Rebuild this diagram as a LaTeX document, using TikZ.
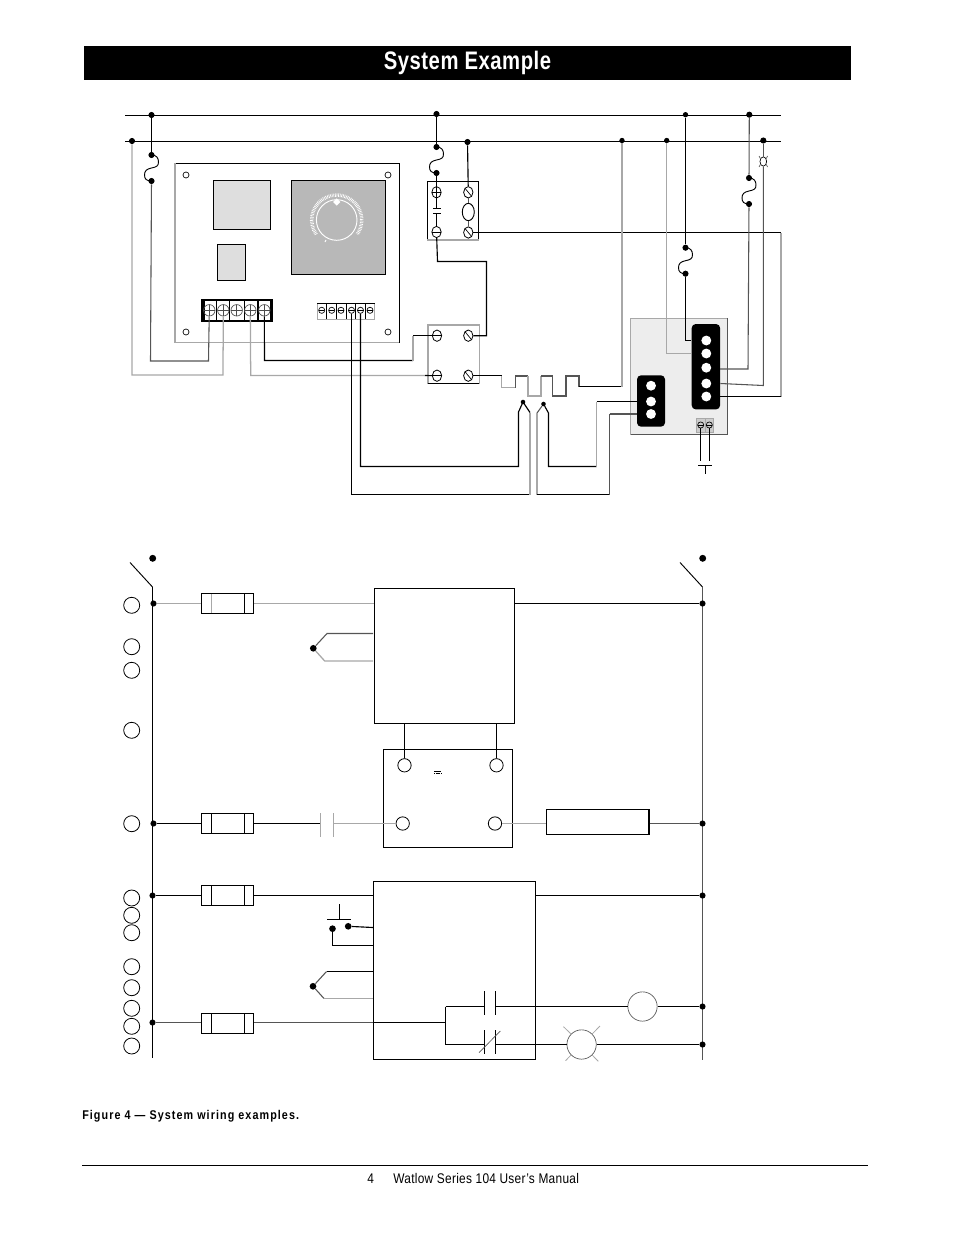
\documentclass[tikz,border=0pt]{standalone}
\usepackage{fontspec}
\setmainfont[FakeStretch=0.85]{Liberation Sans}
\newfontfamily\titlefont[FakeStretch=0.8,LetterSpace=2]{Liberation Sans}
\newfontfamily\captfont[FakeStretch=0.85,LetterSpace=8.5]{Liberation Sans}
\newfontfamily\footfont[FakeStretch=0.85,LetterSpace=2]{Liberation Sans}
\usetikzlibrary{shapes.geometric}
\definecolor{wiregray}{HTML}{A8A8A8}
\definecolor{wiredark}{HTML}{555555}
\tikzset{
  wire/.style={line width=.85pt,black},
  gwire/.style={line width=.95pt,wiregray},
  dwire/.style={line width=.8pt,wiredark},
  jdot/.style={circle,fill=black,inner sep=0pt,minimum size=4.6pt},
  hole/.style={circle,draw,line width=.5pt,inner sep=0pt,minimum size=4.5pt},
  tagc/.style={circle,draw,line width=.6pt,inner sep=0pt,minimum size=12pt},
  termc/.style={circle,draw,line width=.6pt,inner sep=0pt,fill=white,minimum size=10pt},
  fusebox/.style={draw,line width=.85pt,inner sep=0pt,minimum width=39.3pt,minimum height=15pt},
  ctrlbox/.style={draw,line width=.85pt,inner sep=0pt},
  screwplus/.style={ellipse,draw,line width=.6pt,inner sep=0pt,fill=white,minimum width=7pt,minimum height=8.5pt,
    path picture={\draw[line width=.5pt] (path picture bounding box.north)--(path picture bounding box.south)
      (path picture bounding box.west)--(path picture bounding box.east);}},
  screwbar/.style={ellipse,draw,line width=.6pt,inner sep=0pt,fill=white,minimum width=7pt,minimum height=8.5pt,
    path picture={\draw[line width=.5pt] (path picture bounding box.west)--(path picture bounding box.east);}},
  screwdiag/.style={ellipse,draw,line width=.6pt,inner sep=0pt,fill=white,minimum width=7pt,minimum height=8.5pt,
    path picture={\draw[line width=.5pt] (path picture bounding box.north west)--(path picture bounding box.south east);}},
  screwbig/.style={circle,draw=black!70,line width=.5pt,inner sep=0pt,minimum size=8.6pt,
    path picture={\draw[line width=.5pt] (path picture bounding box.north)--(path picture bounding box.south)
      (path picture bounding box.west)--(path picture bounding box.east);}},
  screwmini/.style={circle,draw,line width=.5pt,inner sep=0pt,minimum size=4.6pt,
    path picture={\draw[line width=.4pt] (path picture bounding box.west)--(path picture bounding box.east);}},
  portw/.style={circle,fill=white,inner sep=0pt,minimum size=7.4pt}
}
\newcommand{\fuseS}[2]{%
  \draw[#1] (#2.center) .. controls +(5,0) and +(0,-4) .. ++(7,7)
    .. controls +(0,4) and +(5,-1) .. ++(-7,6)
    .. controls +(-5,1) and +(0,-4) .. ++(-7,7)
    .. controls +(0,4) and +(-5,0) .. ++(7,6);}
\begin{document}
\begin{tikzpicture}[x=0.75pt,y=-0.75pt]
  \useasboundingbox (0,0) rectangle (954,1235);

  %nadpis
  \node[fill=black,inner sep=0pt,minimum width=575.25pt,minimum height=25.5pt,text=white,font=\titlefont\bfseries\fontsize{19}{19}\selectfont] (titlebar) at (467.5,63) {System Example};

  %zbernice
  \coordinate (busaw) at (125,115.5);
  \coordinate (busae) at (781,115.5);
  \coordinate (busbw) at (125,141.5);
  \coordinate (busbe) at (781,141.5);
  \draw[wire] (busaw) -- (busae);
  \draw[wire] (busbw) -- (busbe);
  \node[jdot] (da1) at (151.5,115) {};
  \node[jdot] (da2) at (436.5,114) {};
  \node[jdot,minimum size=4pt] (da3) at (685.5,114.7) {};
  \node[jdot] (da4) at (749.3,114.7) {};
  \node[jdot] (db1) at (132,141) {};
  \node[jdot] (db2) at (467.5,142) {};
  \node[jdot,minimum size=4pt] (db3) at (622,140.5) {};
  \node[jdot,minimum size=4pt] (db4) at (666.7,140.5) {};
  \node[jdot] (db5) at (763.3,140.5) {};

  %poistky
  \node[jdot] (fa1) at (151.5,155) {};
  \node[jdot] (fa2) at (151.5,181) {};
  \node[jdot] (fb1) at (436.5,147) {};
  \node[jdot] (fb2) at (436.5,173) {};
  \node[jdot] (fc1) at (685.5,247.7) {};
  \node[jdot] (fc2) at (685.5,273.7) {};
  \node[jdot] (fd1) at (749,178) {};
  \node[jdot] (fd2) at (749,204) {};
  \fuseS{line width=.7pt,black}{fa1}
  \fuseS{line width=.7pt,black}{fb1}
  \fuseS{line width=.7pt,black}{fc1}
  \fuseS{line width=.7pt,black}{fd1}

  %regulator
  \draw[line width=.85pt] (175,342.7) -- (175,163.3) -- (399.3,163.3) -- (399.3,342.7);
  \draw[line width=1.1pt,wiregray] (175,163.3) -- (175,342.7) -- (399.3,342.7);
  \node[hole] (ha) at (186,175) {};
  \node[hole] (hb) at (388,175) {};
  \node[hole] (hc) at (186,332) {};
  \node[hole] (hd) at (388,332) {};
  \draw[fill=black!13,line width=.85pt] (213.3,180.3) rectangle (270.3,229.3);
  \draw[fill=black!13,line width=.85pt] (217.3,244.3) rectangle (245.7,280.3);
  \draw[fill=black!28,line width=.85pt] (291.3,180.3) rectangle (385.7,274.3);

  %gombik
  \draw[white,line width=.7pt] (336.7,220) circle (20.3);
  \draw[white,line width=2.6pt,dash pattern=on .5pt off .7pt] ([shift={(-215:25)}]336.7,220) arc[start angle=-215,end angle=35,radius=25];
  \draw[white,line width=.7pt] (325,242) -- (326,240);
  \node[diamond,fill=white,inner sep=0pt,minimum size=5.5pt] (knob) at (336.7,202) {};

  %svorkovnica velka
  \fill (201.3,299.3) rectangle (204.7,321.7);
  \fill (215.7,299.3) rectangle (216.7,321.7);
  \fill (229.3,299.3) rectangle (230.3,321.7);
  \fill (244,299.3) rectangle (245,321.7);
  \fill (257.3,299.3) rectangle (259.3,321.7);
  \fill (270,299.3) rectangle (272.7,321.7);
  \draw[line width=1.1pt] (201.3,300) -- (272.7,300) (201.3,321) -- (272.7,321);
  \node[screwbig] (ta) at (209.3,310.3) {};
  \node[screwbig] (tb) at (223.3,310.3) {};
  \node[screwbig] (tc) at (236.7,310.3) {};
  \node[screwbig] (td) at (250.3,310.3) {};
  \node[screwbig] (te) at (264.3,310.3) {};

  %svorkovnica mala
  \draw[line width=.6pt,wiregray] (317.3,303.3) rectangle (374.7,319.3);
  \draw[line width=.6pt] (317.3,303.3) -- (374.7,303.3);
  \draw[line width=.5pt] (326.8,303.3) -- (326.8,319.3) (336.4,303.3) -- (336.4,319.3) (346,303.3) -- (346,319.3) (355.6,303.3) -- (355.6,319.3) (365.2,303.3) -- (365.2,319.3);
  \node[screwmini] (sa) at (321.7,310.3) {};
  \node[screwmini] (sb) at (331.7,310.3) {};
  \node[screwmini] (sc) at (341,310.3) {};
  \node[screwmini] (sd) at (351.5,310.3) {};
  \node[screwmini] (se) at (360.5,310.3) {};
  \node[screwmini] (sf) at (370,310.3) {};

  %stykac horny
  \draw[line width=.85pt] (427.3,240) -- (427.3,181.3) -- (478.7,181.3) -- (478.7,240);
  \draw[line width=.9pt,wiregray] (427.3,240) -- (478.7,240);
  \node[screwplus] (ka) at (436.5,192.3) {};
  \node[screwdiag] (kb) at (468.3,192.3) {};
  \node[screwbar] (kc) at (436.5,232) {};
  \node[screwdiag] (kd) at (468.3,232.5) {};
  \node[ellipse,draw,line width=.7pt,inner sep=0pt,minimum width=9pt,minimum height=13pt] (coil) at (468.3,212) {};
  \coordinate (cta) at (436.5,208.3);
  \coordinate (ctb) at (436.5,213.3);
  \draw[line width=.7pt] (433.3,208.3) -- (440.7,208.3) (433.3,213.3) -- (440.7,213.3);
  \draw[line width=.7pt] (fb2) -- (cta);
  \draw[line width=.7pt] (ctb) -- (kc);
  \draw[dwire] (kb) -- (coil);
  \draw[dwire] (coil) -- (kd);

  %stykac dolny
  \draw[line width=1.2pt,wiregray] (427.7,383.7) -- (427.7,324.7) -- (479.3,324.7) -- (479.3,383.7);
  \draw[line width=.85pt] (427.7,383.7) -- (479.3,383.7);
  \node[screwbar] (ma) at (437,335.7) {};
  \node[screwdiag] (mb) at (468.3,335.7) {};
  \node[screwbar] (mc) at (437,375.7) {};
  \node[screwdiag] (md) at (468.3,375.7) {};

  %riadiaca jednotka
  \draw[line width=.7pt,fill=black!7,draw=wiregray] (630.7,434.3) rectangle (727.3,318.3);
  \draw[line width=.85pt,wiredark] (630.7,434.3) -- (727.3,434.3) -- (727.3,318.3);
  \node[fill=black,rounded corners=3pt,inner sep=0pt,minimum width=21.3pt,minimum height=64pt] (blocka) at (705.9,366.7) {};
  \node[fill=black,rounded corners=3pt,inner sep=0pt,minimum width=21pt,minimum height=38.5pt] (blockb) at (651,401) {};
  \node[portw] (pa) at (706.3,340.5) {};
  \node[portw] (pb) at (706.3,353.5) {};
  \node[portw] (pc) at (706.3,367.7) {};
  \node[portw] (pd) at (706.3,383.5) {};
  \node[portw] (pe) at (706.3,396.5) {};
  \node[portw] (pf) at (651,385.7) {};
  \node[portw] (pg) at (651,401.5) {};
  \node[portw] (ph) at (651,414) {};
  \draw[fill=black!20,draw=wiregray,line width=.6pt] (696.7,418.3) rectangle (713.3,432.3);
  \draw[wiregray,line width=.6pt] (705,418.3) -- (705,432.3);
  \node[screwmini] (qa) at (700.7,425) {};
  \node[screwmini] (qb) at (709.3,425) {};

  %kontakt pod jednotkou
  \coordinate (qc) at (700.7,461);
  \coordinate (qd) at (709.3,461);
  \draw[line width=.7pt] (qa) -- (qc);
  \draw[line width=.7pt] (qb) -- (qd);
  \draw[line width=.7pt] (698.3,465.3) -- (712,465.3) (705.3,465.3) -- (705.3,473.7);

  %signalka
  \node[ellipse,draw,line width=.5pt,inner sep=0pt,minimum width=5pt,minimum height=7pt] (lampa) at (763.3,161.5) {};
  \draw[line width=.5pt,wiredark] (759,156) -- (lampa.135) (767.6,156) -- (lampa.45) (759,167) -- (lampa.225) (767.6,167) -- (lampa.315);

  %vodice hore
  \draw[wire] (da1) -- (fa1);
  \draw[wire] (da2) -- (fb1);
  \draw[wire] (da3) -- (fc1);
  \draw[dwire] (da4) -- (fd1);
  \draw[wire] (db2) -- (kb);
  \draw[dwire] (db5) -- (lampa);
  \draw[dwire] (fa2) -- (150.5,361) -- (208.5,361) -- (ta);
  \draw[gwire] (db1) -- (132,375) -- (223,375) -- (tb);
  \draw[gwire] (td) -- (250.7,375.5) -- (425,375.5);
  \draw[wire] (425,375.5) -- (mc);
  \draw[wire] (te) -- (264.5,360.5) -- (413,360.5);
  \draw[gwire] (413,360.5) -- (413,335.7);
  \draw[wire] (413,335.7) -- (ma);
  \draw[wire] (kc) -- (437.5,261.5) -- (486.5,261.5) -- (486.5,335.7) -- (mb);
  \draw[wire] (kd) -- (781,232.5);
  \draw[gwire] (781,232.5) -- (781,396.5);
  \draw[wire] (781,396.5) -- (blocka.east |- pe);
  \draw[wire] (sd) -- (351.5,494.5) -- (530,494.5);
  \draw[wire] (se) -- (360.5,466.5) -- (518.5,466.5) -- (518.5,412) -- (523,402);
  \draw[wire] (523,402) -- (530,412.5);
  \draw[gwire] (530,412.5) -- (530,494.5);
  \draw[wire] (md) -- (501.7,375.7);
  \draw[gwire] (501.7,375.7) -- (501.7,387.7) -- (515.7,387.7);
  \draw[dwire] (515.7,387.7) -- (515.7,376) -- (528,376);
  \draw[gwire] (528,376) -- (528,396) -- (541,396) -- (541,376);
  \draw[dwire] (541,376) -- (552.3,376) -- (552.3,396) -- (566,396) -- (566,376) -- (579,376) -- (579,386.5);
  \draw[wire] (579,386.5) -- (622,386.5);
  \draw[gwire] (622,386.5) -- (db3);
  \draw[gwire] (db4) -- (666.7,353.5) -- (blocka.west |- pb);
  \draw[wire] (fc2) -- (685.5,340.5) -- (blocka.west |- pa);
  \draw[dwire] (fd2) -- (748,369) -- (720,369);
  \draw[dwire] (lampa) -- (763.3,385.5) -- (blocka.east |- pd);
  \node[jdot,minimum size=3.4pt] (tca) at (523,402) {};
  \node[jdot,minimum size=3.4pt] (tcb) at (543.5,404) {};
  \draw[wire] (tcb) -- (548.5,413) -- (548.5,466.5) -- (596.7,466.5);
  \draw[gwire] (596.7,466.5) -- (596.7,401.5);
  \draw[wire] (596.7,401.5) -- (blockb.west |- pg);
  \draw[dwire] (tcb) -- (537,413);
  \draw[gwire] (537,413) -- (537,494.5);
  \draw[wire] (537,494.5) -- (609.5,494.5);
  \draw[dwire] (609.5,494.5) -- (609.5,414);
  \draw[dwire] (609.5,414) -- (blockb.west |- ph);

  %schema dole - hlavny vypinac
  \node[jdot,minimum size=5.2pt] (swa) at (152.7,558.3) {};
  \node[jdot,minimum size=5.2pt] (swb) at (702.7,558.3) {};
  \coordinate (laa) at (152.5,587);
  \coordinate (lab) at (152.5,1058);
  \coordinate (lba) at (702.5,587);
  \coordinate (lbb) at (702.5,1060);
  \draw[line width=.7pt] (130,562.5) -- (laa);
  \draw[line width=.7pt] (680,562.5) -- (lba);
  \draw[wire] (laa) -- (lab);
  \draw[dwire] (lba) -- (lbb);

  %kruzky vlavo
  \node[tagc] (n1) at (131.7,605.3) {};
  \node[tagc] (n2) at (131.7,646.7) {};
  \node[tagc] (n3) at (131.7,670.3) {};
  \node[tagc] (n4) at (131.7,730.3) {};
  \node[tagc] (n5) at (131.7,823.7) {};
  \node[tagc] (n6) at (131.7,898) {};
  \node[tagc] (n7) at (131.7,915.3) {};
  \node[tagc] (n8) at (131.7,932.7) {};
  \node[tagc] (n9) at (131.7,966.7) {};
  \node[tagc] (n10) at (131.7,987.7) {};
  \node[tagc] (n11) at (131.7,1008.3) {};
  \node[tagc] (n12) at (131.7,1026.3) {};
  \node[tagc] (n13) at (131.7,1046) {};

  %uzly
  \node[jdot] (ra) at (153.5,603.5) {};
  \node[jdot] (rb) at (153.5,823.5) {};
  \node[jdot] (rc) at (152.5,895.5) {};
  \node[jdot] (rd) at (152.5,1022.5) {};
  \node[jdot] (qra) at (702.5,603.5) {};
  \node[jdot] (qrb) at (702.5,823.5) {};
  \node[jdot] (qrc) at (702.5,895.5) {};
  \node[jdot] (qrd) at (702.5,1006.5) {};
  \node[jdot] (qre) at (702.5,1044.5) {};

  %poistky dole
  \node[fusebox] (fusea) at (227.5,603.5) {};
  \node[fusebox] (fuseb) at (227.5,823.8) {};
  \node[fusebox] (fusec) at (227.5,895.8) {};
  \node[fusebox] (fused) at (227.5,1023.8) {};
  \draw[line width=.85pt,wiregray] (211.3,594) -- (211.3,613);
  \draw[line width=.8pt] (244.7,594) -- (244.7,613);
  \draw[line width=.8pt] (211.3,814.3) -- (211.3,833.3) (244.7,814.3) -- (244.7,833.3);
  \draw[line width=.8pt] (211.3,886.3) -- (211.3,905.3) (244.7,886.3) -- (244.7,905.3);
  \draw[line width=.8pt] (211.3,1014.3) -- (211.3,1033.3) (244.7,1014.3) -- (244.7,1033.3);

  %bloky
  \node[ctrlbox,minimum width=105.3pt,minimum height=101.25pt] (ctrla) at (444.5,655.8) {};
  \node[ctrlbox,minimum width=96.75pt,minimum height=73.5pt] (ctrlb) at (447.8,798.3) {};
  \node[ctrlbox,minimum width=121.4pt,minimum height=133.5pt] (ctrlc) at (454.5,970.3) {};
  \node[ctrlbox,minimum width=76.9pt,minimum height=18.4pt] (heat) at (597.7,821.8) {};
  \node[termc] (ca) at (404.5,765.3) {};
  \node[termc] (cb) at (496.5,765.3) {};
  \node[termc] (cc) at (402.7,823.5) {};
  \node[termc] (cd) at (495,823.5) {};
  \draw[line width=.5pt] (434,771.5) -- (441,771.5);
  \draw[line width=.5pt,dash pattern=on .8pt off .5pt] (434,773.8) -- (441,773.8);

  %vodice dole
  \draw[gwire] (ra) -- (fusea);
  \draw[gwire] (fusea) -- (ctrla.west |- fusea);
  \draw[wire] (ctrla.east |- fusea) -- (qra);
  \draw[wire] (ctrla.south -| ca) -- (ca);
  \draw[wire] (ctrla.south -| cb) -- (cb);
  \draw[wire] (rb) -- (fuseb.west |- rb);
  \draw[wire] (fuseb.east |- rb) -- (320.7,823.5);
  \draw[gwire] (320.7,813.3) -- (320.7,836.7) (333.3,813.3) -- (333.3,836.7);
  \draw[gwire] (333.3,823.5) -- (cc);
  \draw[gwire] (cd) -- (heat.west |- cd);
  \draw[dwire] (heat.east |- qrb) -- (qrb);
  \draw[wire] (rc) -- (fusec.west |- rc);
  \draw[wire] (fusec.east |- rc) -- (ctrlc.west |- rc);
  \draw[wire] (ctrlc.east |- rc) -- (qrc);
  \draw[dwire] (rd) -- (fused.west |- rd);
  \draw[dwire] (fused.east |- rd) -- (ctrlc.west |- rd);

  %termoclanky
  \node[jdot,minimum size=5pt] (tcc) at (313.3,648.3) {};
  \node[jdot,minimum size=5pt] (tcd) at (313,986.3) {};
  \draw[dwire] (tcc) -- (327,633.5) -- (373,633.5);
  \draw[gwire] (tcc) -- (324.7,661) -- (373,661);
  \draw[dwire] (tcd) -- (326.5,971.5);
  \draw[wire] (326.5,971.5) -- (373,971.5);
  \draw[dwire] (tcd) -- (324,998.5);
  \draw[gwire] (324,998.5) -- (373,998.5);

  %tlacidlo
  \node[jdot,minimum size=5pt] (pba) at (332.5,928.7) {};
  \node[jdot,minimum size=5pt] (pbb) at (348.2,926.3) {};
  \draw[line width=.7pt] (339.1,904) -- (339.1,919.3) (327.4,919.3) -- (351,919.3);
  \draw[wire] (pbb) -- (373,927.5);
  \draw[wire] (pba) -- (332.5,945.5) -- (373,945.5);

  %kontakty v bloku
  \coordinate (jct) at (445.5,1022.5);
  \node[circle,draw,line width=.5pt,draw=wiredark,inner sep=0pt,minimum size=22pt] (motor) at (642.5,1006.5) {};
  \node[circle,draw,line width=.5pt,draw=wiredark,inner sep=0pt,minimum size=22pt] (lamp) at (581.6,1044.5) {};
  \draw[wire] (ctrlc.west |- jct) -- (jct);
  \draw[wire] (445.5,1006.5) -- (445.5,1044.5);
  \draw[wire] (445.5,1006.5) -- (484.1,1006.5);
  \draw[wire] (445.5,1044.5) -- (484.1,1044.5);
  \draw[line width=.7pt] (484.1,991) -- (484.1,1015) (495.1,991) -- (495.1,1015);
  \draw[line width=.7pt] (484.1,1030) -- (484.1,1054) (495.1,1030) -- (495.1,1054);
  \draw[line width=.5pt,wiredark] (479,1052.7) -- (500.3,1031);
  \draw[wire] (495.1,1006.5) -- (motor);
  \draw[wire] (motor) -- (qrd);
  \draw[wire] (495.1,1044.5) -- (lamp);
  \draw[wire] (lamp) -- (qre);
  \draw[line width=.6pt,wiregray] (563.5,1026.7) -- (lamp.135) (600,1026) -- (lamp.45) (565.5,1060.7) -- (lamp.225) (598.3,1061.3) -- (lamp.315);

  %popis a pata
  \node[anchor=west,inner sep=0pt,font=\captfont\bfseries\fontsize{9.5}{11}\selectfont] (capt) at (82,1116.5) {Figure 4 — System wiring examples.};
  \coordinate (rulea) at (82,1165);
  \coordinate (ruleb) at (868,1165);
  \draw[line width=.7pt] (rulea) -- (ruleb);
  \node[anchor=west,inner sep=0pt,font=\footfont\fontsize{10.5}{12}\selectfont] (foot) at (367,1178.5) {4\hspace{14.6pt}Watlow Series 104 User’s Manual};
\end{tikzpicture}
\end{document}
